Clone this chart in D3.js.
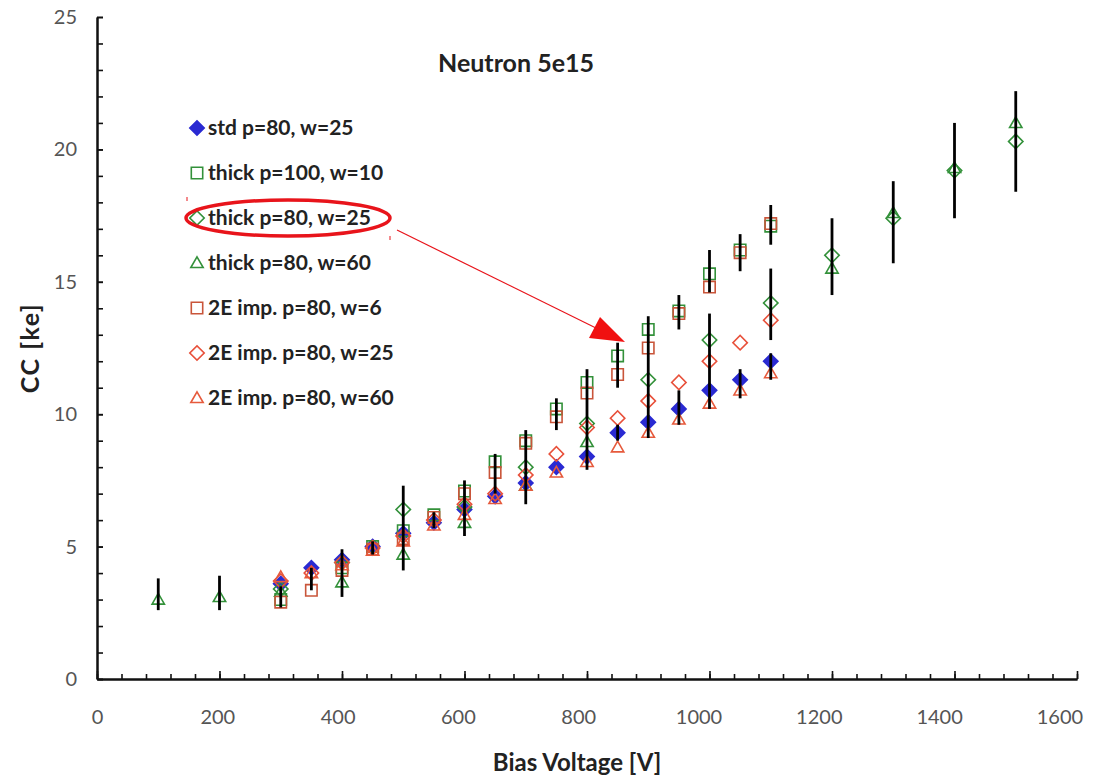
<!DOCTYPE html>
<html>
<head>
<meta charset="utf-8">
<script src="https://cdn.jsdelivr.net/npm/d3@7"></script>
<style>
  body { margin: 0; background: #fff; }
  svg text { font-family: Lato, "Open Sans", sans-serif; }
</style>
</head>
<body>
<div id="chart"></div>
<script>
// ---- data ----
let voltages = [100, 200, 300, 350, 400, 450, 500, 550, 600, 650, 700, 750, 800, 850, 900, 950, 1000, 1050, 1100, 1200, 1300, 1400, 1500];

let stdP80W25     = [null, null, 3.6, 4.2, 4.5, 5.0, 5.5, 5.9, 6.4, 6.9, 7.4, 8.0, 8.4, 9.3, 9.7, 10.2, 10.9, 11.3, 12.0, null, null, null, null];
let thickP100W10  = [null, null, 3.0, null, 4.2, 5.0, 5.6, 6.2, 7.1, 8.2, 9.0, 10.2, 11.2, 12.2, 13.2, 13.9, 15.3, 16.2, 17.1, null, null, null, null];
let thickP80W25   = [null, null, 3.4, null, 4.4, null, 6.4, null, 6.5, null, 8.0, null, 9.65, null, 11.3, null, 12.8, null, 14.2, 16.0, 17.4, 19.2, 20.3];
let thickP80W60   = [3.0, 3.1, 3.3, null, 3.65, null, 4.7, null, 5.9, null, 7.3, null, 8.95, null, null, null, null, null, null, 15.5, 17.6, 19.3, 21.0];
let imp2eP80W6    = [null, null, 2.9, 3.35, 4.1, 4.9, 5.3, 6.1, 7.0, 7.8, 8.9, 9.9, 10.8, 11.5, 12.5, 13.8, 14.8, 16.1, 17.2, null, null, null, null];
let imp2eP80W25   = [null, null, 3.7, 4.0, 4.4, 4.95, 5.4, 6.0, 6.6, 7.0, 7.7, 8.5, 9.5, 9.85, 10.5, 11.2, 12.0, 12.7, 13.55, null, null, null, null];
let imp2eP80W60   = [null, null, 3.85, 4.0, 4.3, 4.85, 5.2, 5.8, 6.2, 6.8, 7.3, 7.8, 8.2, 8.75, 9.3, 9.8, 10.4, 10.9, 11.55, null, null, null, null];

// error bars (black vertical lines)
let errV  = [100, 200, 300, 350, 400, 450, 500, 550, 600, 650, 700, 750, 800, 850, 850, 900, 950, 950, 1000, 1000, 1050, 1050, 1100, 1100, 1100, 1200, 1300, 1400, 1500];
let errLo = [2.6, 2.6, 2.7, 3.35, 3.1, 4.7, 4.1, 5.7, 5.4, 7.0, 6.6, 9.4, 7.9, 11.0, 9.0, 9.1, 13.2, 9.6, 14.6, 10.2, 15.4, 10.6, 16.4, 12.8, 11.3, 14.5, 15.7, 17.4, 18.4];
let errHi = [3.8, 3.9, 3.5, 4.2, 4.9, 5.2, 7.3, 6.3, 7.5, 8.5, 9.4, 10.6, 11.7, 12.7, 9.6, 13.7, 14.5, 10.9, 16.2, 13.8, 16.8, 11.7, 17.9, 15.5, 12.3, 17.4, 18.8, 21.0, 22.2];

let seriesNames  = ["std p=80, w=25", "thick p=100, w=10", "thick p=80, w=25", "thick p=80, w=60", "2E imp. p=80, w=6", "2E imp. p=80, w=25", "2E imp. p=80, w=60"];
let seriesValues = [stdP80W25, thickP100W10, thickP80W25, thickP80W60, imp2eP80W6, imp2eP80W25, imp2eP80W60];

let xTicks = d3.range(0, 1601, 200);
let xMinorTicks = d3.range(0, 1601, 40);
let yTicks = d3.range(0, 26, 5);
let yMinorTicks = d3.range(0, 26, 1);

// ---- styles ----
let styles = [
    {shape: "diamond",  color: "#2a2ad2", fill: "#2a2ad2"},
    {shape: "square",   color: "#33913a", fill: "none"},
    {shape: "diamond",  color: "#33913a", fill: "none"},
    {shape: "triangle", color: "#33913a", fill: "none"},
    {shape: "square",   color: "#c9553a", fill: "none"},
    {shape: "diamond",  color: "#e8503a", fill: "none"},
    {shape: "triangle", color: "#e65a3c", fill: "none"}
];

let width = 1103, height = 776;

let svg = d3.select("#chart").append("svg")
    .attr("width", width)
    .attr("height", height);

let x = d3.scaleLinear().domain([0, 1600]).range([97, 1077]);
let y = d3.scaleLinear().domain([0, 25]).range([679, 17]);

function symbolPath(shape) {
    if (shape === "square") return d3.symbol().type(d3.symbolSquare).size(130)();
    if (shape === "diamond") return d3.symbol().type(d3.symbolSquare).size(104)();
    return d3.symbol().type(d3.symbolTriangle).size(66)();
}
function symbolTransform(shape, px, py) {
    if (shape === "diamond") return `translate(${px},${py}) rotate(45)`;
    if (shape === "triangle") return `translate(${px},${py + 1})`;
    return `translate(${px},${py})`;
}

// ---- axes ----
svg.append("g")
    .attr("transform", `translate(0,${y(0)})`)
    .call(d3.axisBottom(x).tickValues(xMinorTicks).tickSize(-5).tickSizeOuter(0).tickFormat(""));
svg.append("g")
    .attr("class", "x-major")
    .attr("transform", `translate(0,${y(0)})`)
    .call(d3.axisBottom(x).tickValues(xTicks).tickSize(-8).tickSizeOuter(0).tickPadding(31).tickFormat(d3.format("d")));
svg.append("g")
    .attr("transform", `translate(${x(0)},0)`)
    .call(d3.axisLeft(y).tickValues(yMinorTicks).tickSize(-6).tickSizeOuter(0).tickFormat(""));
svg.append("g")
    .attr("transform", `translate(${x(0)},0)`)
    .call(d3.axisLeft(y).tickValues(yTicks).tickSize(-6).tickSizeOuter(0).tickPadding(20).tickFormat(d3.format("d")));

svg.selectAll(".domain").attr("stroke", "#111").attr("stroke-width", 2);
svg.selectAll(".tick line").attr("stroke", "#111").attr("stroke-width", 1.6);
svg.selectAll(".tick text")
    .attr("fill", "#555")
    .style("font-size", "20px");

// labels in the picture sit a little left of their ticks toward the right end
svg.selectAll(".x-major .tick text")
    .attr("dx", d => -d * 0.011);

// axis titles
svg.append("text")
    .attr("x", 577).attr("y", 771)
    .attr("text-anchor", "middle")
    .style("font-size", "24px").style("font-weight", "bold")
    .attr("fill", "#222")
    .text("Bias Voltage [V]");
svg.append("text")
    .attr("transform", "translate(39,348) rotate(-90)")
    .attr("text-anchor", "middle")
    .style("font-size", "25px").style("font-weight", "bold")
    .style("letter-spacing", "1.5px")
    .attr("fill", "#222")
    .text("CC [ke]");

// chart title
svg.append("text")
    .attr("x", 516).attr("y", 72)
    .attr("text-anchor", "middle")
    .style("font-size", "25px").style("font-weight", "bold")
    .attr("fill", "#222")
    .text("Neutron 5e15");

// ---- markers ----
seriesValues.forEach((vals, i) => {
    let st = styles[i];
    let pts = voltages.map((v, j) => ({v: v, cc: vals[j]})).filter(d => d.cc !== null);
    svg.append("g").attr("class", "series s" + i)
        .selectAll("path")
        .data(pts)
        .enter().append("path")
        .attr("d", symbolPath(st.shape))
        .attr("transform", d => symbolTransform(st.shape, x(d.v), y(d.cc)))
        .attr("fill", st.fill)
        .attr("stroke", st.color)
        .attr("stroke-width", 1.6);
});

// ---- error bars ----
let errData = errV.map((v, i) => ({v: v, lo: errLo[i], hi: errHi[i]}));
svg.append("g").attr("class", "errors")
    .selectAll("line")
    .data(errData)
    .enter().append("line")
    .attr("x1", d => x(d.v)).attr("x2", d => x(d.v))
    .attr("y1", d => y(d.lo)).attr("y2", d => y(d.hi))
    .attr("stroke", "#000")
    .attr("stroke-width", 2.8);

// ---- legend ----
let legend = svg.append("g").attr("class", "legend");
seriesNames.forEach((name, i) => {
    let st = styles[i];
    let ly = 128 + i * 45;
    legend.append("path")
        .attr("d", symbolPath(st.shape))
        .attr("transform", symbolTransform(st.shape, 197, ly))
        .attr("fill", st.fill)
        .attr("stroke", st.color)
        .attr("stroke-width", 1.6);
    legend.append("text")
        .attr("x", 208).attr("y", ly)
        .attr("dy", "0.35em")
        .style("font-size", "21px").style("font-weight", "bold")
        .attr("fill", "#222")
        .text(name);
});

// ---- annotation: ellipse and arrow ----
let note = svg.append("g").attr("class", "note");
note.append("ellipse")
    .attr("cx", 288).attr("cy", 218)
    .attr("rx", 102).attr("ry", 18)
    .attr("fill", "none").attr("stroke", "#e8141b").attr("stroke-width", 3.5);
note.append("line")
    .attr("x1", 397).attr("y1", 230)
    .attr("x2", 600).attr("y2", 330)
    .attr("stroke", "#e8141b").attr("stroke-width", 1.2);
note.append("path")
    .attr("d", "M625,342 L600,317 L589,338 Z")
    .attr("fill", "#f01010");
note.append("line").attr("x1", 187).attr("y1", 197).attr("x2", 187).attr("y2", 201)
    .attr("stroke", "#e8141b").attr("stroke-width", 1);
note.append("line").attr("x1", 390).attr("y1", 236).attr("x2", 390).attr("y2", 240)
    .attr("stroke", "#e8141b").attr("stroke-width", 1);
</script>
</body>
</html>
